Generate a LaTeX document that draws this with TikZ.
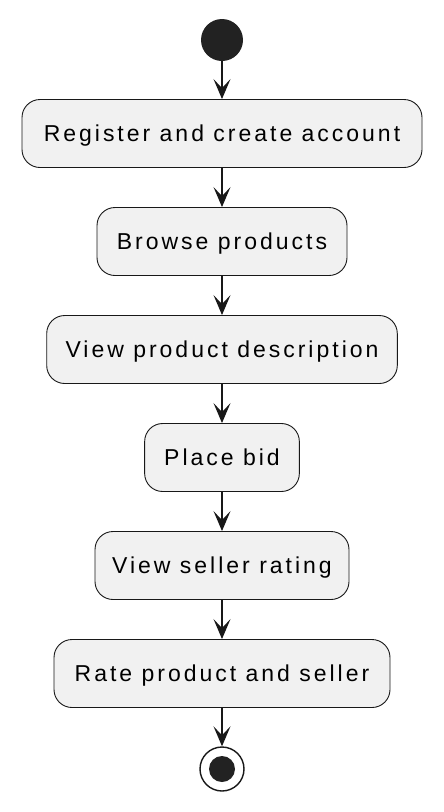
\documentclass[tikz,border=0pt]{standalone}
\usepackage{fontspec}
\setmainfont{Liberation Sans}[LetterSpace=13]
\usetikzlibrary{arrows.meta}
\definecolor{boxfill}{HTML}{F1F1F1}
\definecolor{ink}{HTML}{181818}
\definecolor{dot}{HTML}{222222}
\tikzset{
  act/.style={draw=ink, line width=0.9pt, fill=boxfill, rounded corners=18pt,
    minimum height=68pt, inner sep=0pt, text height=16.5pt, text depth=0pt,
    font=\fontsize{23}{27}\selectfont, text=black},
  flow/.style={draw=ink, line width=1.6pt, -{Stealth[length=20pt,width=17pt,inset=9pt]}},
}
\begin{document}
\begin{tikzpicture}[x=1pt,y=-1pt]
\useasboundingbox (0,0) rectangle (444,812);
\node[circle, fill=dot, minimum size=42pt, inner sep=0pt] (start) at (222,40) {};
\node[act, minimum width=400pt] (a1) at (222,133.5) {Register and create account};
\node[act, minimum width=250pt] (a2) at (222,241.5) {Browse products};
\node[act, minimum width=350.6pt] (a3) at (222,349.5) {View product description};
\node[act, minimum width=154.7pt] (a4) at (222,457.5) {Place bid};
\node[act, minimum width=254pt] (a5) at (222,565.5) {View seller rating};
\node[act, minimum width=336pt] (a6) at (222,673.5) {Rate product and seller};
\node[circle, draw=ink, line width=1.4pt, fill=white, minimum size=44pt, inner sep=0pt] (stop) at (222,769) {};
\node[circle, fill=dot, minimum size=26pt, inner sep=0pt] (stopdot) at (stop.center) {};
\draw[flow] (start) -- (a1);
\draw[flow] (a1) -- (a2);
\draw[flow] (a2) -- (a3);
\draw[flow] (a3) -- (a4);
\draw[flow] (a4) -- (a5);
\draw[flow] (a5) -- (a6);
\draw[flow] (a6) -- (stop);
\end{tikzpicture}
\end{document}
